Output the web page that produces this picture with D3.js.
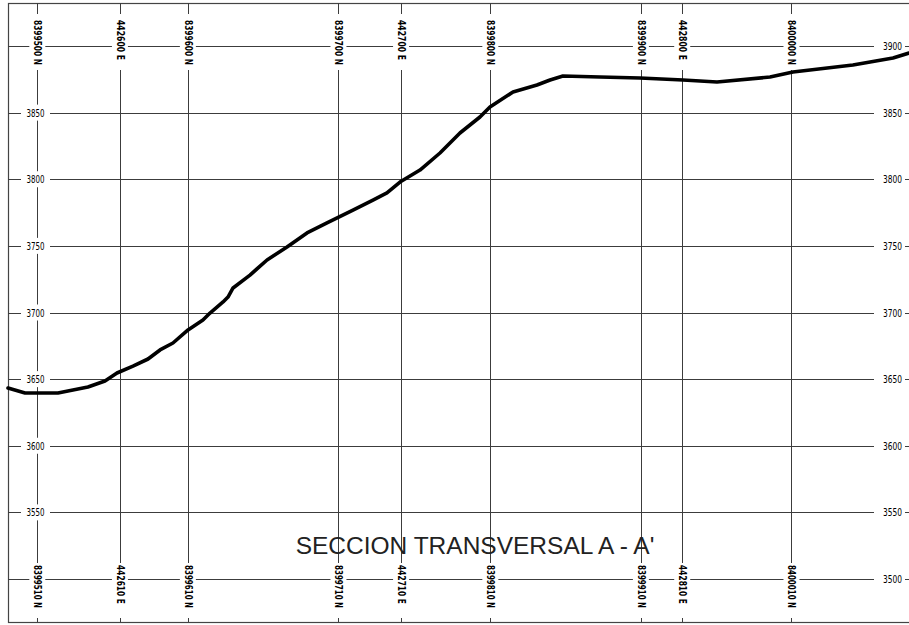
<!DOCTYPE html>
<html>
<head>
<meta charset="utf-8">
<script src="https://cdn.jsdelivr.net/npm/d3@7"></script>
<style>
  html, body { margin: 0; padding: 0; background: #fff; }
  svg { display: block; }
</style>
</head>
<body>
<svg id="chart" width="909" height="625"></svg>
<script>
// ---- data ----
const elevTicks = [3500, 3550, 3600, 3650, 3700, 3750, 3800, 3850, 3900];
const stationDist = [22, 84, 135, 248, 295, 362, 475, 506, 588];
const topLabels = ["8399500 N", "442600 E", "8399600 N", "8399700 N", "442700 E", "8399800 N", "8399900 N", "442800 E", "8400000 N"];
const bottomLabels = ["8399510 N", "442610 E", "8399610 N", "8399710 N", "442710 E", "8399810 N", "8399910 N", "442810 E", "8400010 N"];
const profileDist = [0, 12.8, 37.5, 60.0, 72.8, 81.8, 93.8, 105.1, 114.1, 123.8, 135.1, 146.3, 151.6, 161.4, 165.1, 168.9, 181.6, 194.4, 209.4, 224.4, 239.4, 258.9, 273.9, 284.4, 294.2, 309.2, 324.2, 339.2, 354.2, 361.7, 379.0, 397.0, 406.8, 416.5, 444.3, 474.3, 506.6, 532.1, 571.9, 589.1, 634.1, 664.2, 676.2];
const profileElev = [3643.3, 3639.6, 3639.6, 3644.1, 3648.6, 3654.6, 3659.8, 3665.1, 3671.9, 3677.1, 3686.9, 3694.4, 3699.6, 3707.9, 3711.6, 3718.4, 3728.1, 3739.4, 3749.2, 3759.7, 3767.2, 3776.9, 3784.4, 3789.7, 3797.9, 3806.9, 3819.7, 3834.7, 3846.7, 3854.2, 3865.5, 3870.7, 3874.5, 3877.5, 3876.7, 3876.0, 3874.5, 3873.0, 3876.7, 3880.5, 3885.7, 3891.0, 3894.7];
const title = "SECCION TRANSVERSAL A - A'";

(function () {
// ---- scales ----
const x = d3.scaleLinear().domain([0, 676.2]).range([8, 909]);
const y = d3.scaleLinear().domain([3500, 3900]).range([579, 46]);
const crisp = v => Math.round(v) + 0.5;

const svg = d3.select("#chart");
const gridColor = "#3c3c3c";
const labelFont = "'Liberation Sans Narrow', 'DejaVu Sans Condensed', 'Liberation Sans', sans-serif";

const yTop = 3, yBottom = 622, xLeft = 8, xRight = 915;

// border
svg.append("rect")
  .attr("x", xLeft + 0.5).attr("y", yTop + 0.5)
  .attr("width", xRight - xLeft).attr("height", yBottom - yTop)
  .attr("fill", "none").attr("stroke", "#444").attr("stroke-width", 1.2);

// horizontal grid lines
svg.append("g").selectAll("line").data(elevTicks).join("line")
  .attr("x1", xLeft).attr("x2", 909)
  .attr("y1", d => crisp(y(d))).attr("y2", d => crisp(y(d)))
  .attr("stroke", gridColor).attr("stroke-width", 1);

// vertical station lines
svg.append("g").selectAll("line").data(stationDist).join("line")
  .attr("x1", d => crisp(x(d))).attr("x2", d => crisp(x(d)))
  .attr("y1", yTop).attr("y2", yBottom)
  .attr("stroke", gridColor).attr("stroke-width", 1);

// gaps (white backgrounds) for labels
const gaps = svg.append("g").attr("fill", "#fff");
gaps.selectAll(".gt").data(stationDist).join("rect").attr("class", "gt")
  .attr("x", d => x(d) - 8).attr("y", 14).attr("width", 16).attr("height", 56);
gaps.selectAll(".gb").data(stationDist).join("rect").attr("class", "gb")
  .attr("x", d => x(d) - 8).attr("y", 563).attr("width", 16).attr("height", 55);
const innerTicks = elevTicks.filter(d => d > 3500 && d < 3900);
gaps.selectAll(".gl").data(innerTicks).join("rect").attr("class", "gl")
  .attr("x", 21).attr("y", d => y(d) - 8).attr("width", 29).attr("height", 16);
gaps.selectAll(".gr").data(elevTicks).join("rect").attr("class", "gr")
  .attr("x", 874).attr("y", d => y(d) - 6).attr("width", 31).attr("height", 12);

// station labels (rotated, reading downward)
const lab = svg.append("g").attr("fill", "#000").attr("font-family", labelFont).attr("font-size", 11).attr("font-weight", "bold");
lab.selectAll(".tl").data(stationDist).join("text").attr("class", "tl")
  .attr("transform", d => `translate(${x(d) + 0.5},20) rotate(90)`)
  .attr("dominant-baseline", "central")
  .attr("textLength", (d, i) => topLabels[i].length === 9 ? 45 : 40)
  .attr("lengthAdjust", "spacingAndGlyphs")
  .text((d, i) => topLabels[i]);
lab.selectAll(".bl").data(stationDist).join("text").attr("class", "bl")
  .attr("transform", d => `translate(${x(d) + 0.5},565) rotate(90)`)
  .attr("dominant-baseline", "central")
  .attr("textLength", (d, i) => bottomLabels[i].length === 9 ? 43 : 39)
  .attr("lengthAdjust", "spacingAndGlyphs")
  .text((d, i) => bottomLabels[i]);

// elevation labels
const el = svg.append("g").attr("fill", "#000").attr("font-family", labelFont).attr("font-size", 10.5);
el.selectAll(".ll").data(innerTicks).join("text").attr("class", "ll")
  .attr("x", 35.5).attr("y", d => y(d))
  .attr("text-anchor", "middle").attr("dominant-baseline", "central")
  .attr("textLength", 18).attr("lengthAdjust", "spacingAndGlyphs")
  .text(d => d);
el.selectAll(".rl").data(elevTicks).join("text").attr("class", "rl")
  .attr("x", 892.5).attr("y", d => y(d))
  .attr("text-anchor", "middle").attr("dominant-baseline", "central")
  .attr("textLength", 19).attr("lengthAdjust", "spacingAndGlyphs")
  .text(d => d);

// profile
const pts = profileDist.map((d, i) => [d, profileElev[i]]);
svg.append("path")
  .datum(pts)
  .attr("d", d3.line().x(d => x(d[0])).y(d => y(d[1])))
  .attr("fill", "none").attr("stroke", "#000")
  .attr("stroke-width", 3.6).attr("stroke-linejoin", "round").attr("stroke-linecap", "round");

// title
svg.append("text")
  .attr("x", 475).attr("y", 554)
  .attr("text-anchor", "middle")
  .attr("font-family", "'Liberation Sans', Arial, sans-serif")
  .attr("font-size", 24.5)
  .attr("fill", "#222")
  .text(title);
})();
</script>
</body>
</html>
